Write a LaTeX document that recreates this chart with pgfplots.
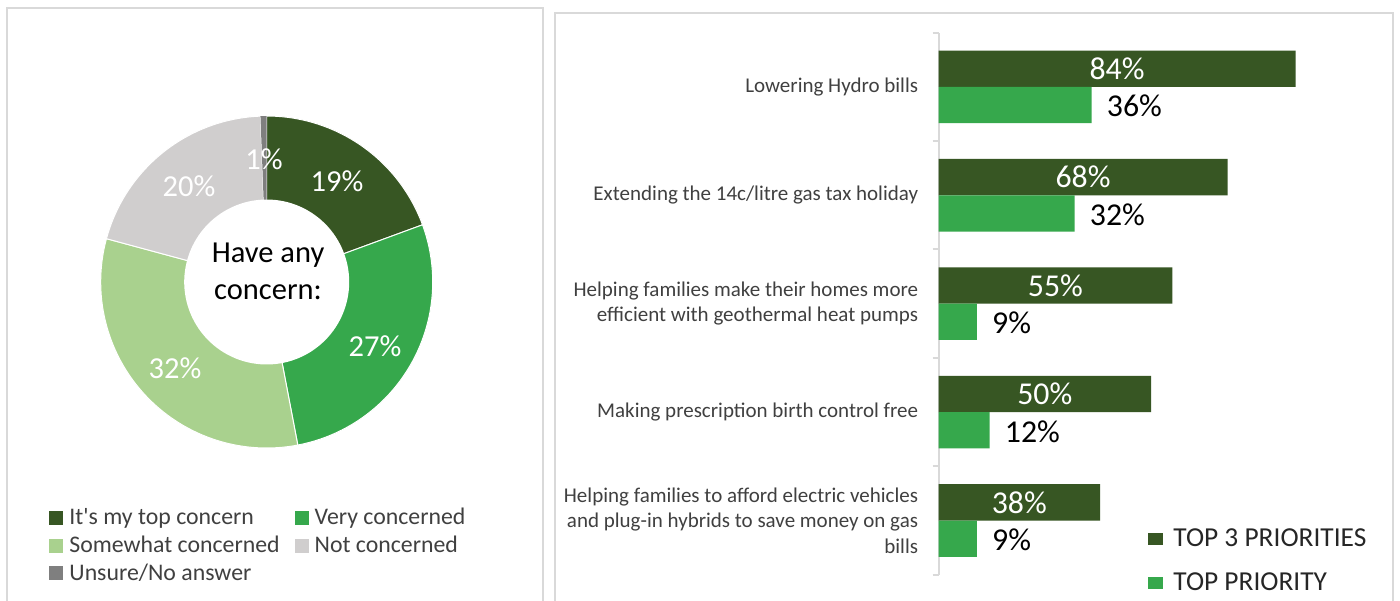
\documentclass[border=0pt]{standalone}
\usepackage{fontspec}
\setmainfont{Carlito}[Ligatures=TeXOff]
\usepackage{pgfplots}
\usepackage{pgfplotstable}
\pgfplotsset{compat=1.18}
\definecolor{cDark}{HTML}{375623}
\definecolor{cGreen}{HTML}{36A84C}
\definecolor{cLight}{HTML}{A9D18E}
\definecolor{cGray}{HTML}{D0CECE}
\definecolor{cUnsure}{HTML}{7F7F7F}
\definecolor{cBorder}{HTML}{D9D9D9}
\definecolor{cText}{HTML}{404040}

\pgfplotsset{
  sqlegend/.style={legend image code/.code={\fill[##1,draw=none] (0pt,-3pt) rectangle (7.5pt,3pt);}},
  sqlegendL/.style={legend image code/.code={\fill[##1,draw=none] (0pt,-3.5pt) rectangle (7pt,3.5pt);}},
}

% donut shares
\def\vA{19.4}\def\vB{27.6}\def\vC{32.2}\def\vD{20.2}\def\vE{0.6}
\pgfmathsetmacro\aA{90-3.6*\vA}
\pgfmathsetmacro\aB{\aA-3.6*\vB}
\pgfmathsetmacro\aC{\aB-3.6*\vC}
\pgfmathsetmacro\aD{\aC-3.6*\vD}
\pgfmathsetmacro\aE{\aD-3.6*\vE}

\pgfplotstableread{
idx top3 top1
4 84 36
3 68 32
2 55 9
1 50 12
0 38 9
}\bardata

\begin{document}
\begin{tikzpicture}
\useasboundingbox[fill=white] (0pt,0pt) rectangle (700pt,300pt);
\draw[cBorder, line width=1pt] (3.5pt,-5pt) -- (3.5pt,296pt) -- (271.5pt,296pt) -- (271.5pt,-5pt);
\draw[cBorder, line width=1pt] (277.5pt,-5pt) -- (277.5pt,293.65pt) -- (696.5pt,293.65pt) -- (696.5pt,-5pt);

% ---------------- donut ----------------
\begin{axis}[
  at={(133.35pt,159pt)}, anchor=origin,
  x=83pt, y=83pt,
  xmin=-1, xmax=1, ymin=-1, ymax=1,
  hide axis, clip=false,
  legend columns=2,
  legend cell align=left,
  legend style={at={(axis cs:-1.311,-1.336)}, anchor=north west, draw=none, fill=none,
    inner sep=0pt, font=\fontsize{11.9}{13}\selectfont,
    nodes={text=cText, inner xsep=0pt, inner ysep=1.3pt, text height=9.1pt, text depth=2.1pt},
    /tikz/every odd column/.append style={column sep=3pt},
    /tikz/every even column/.append style={column sep=7.5pt}},
  sqlegendL,
]
\addplot[fill=cDark, draw=white, line width=0.5pt, domain=\aA:90, samples=40, variable=\t] ({cos(\t)},{sin(\t)}) -- (axis cs:0,0) -- cycle;
\addlegendentry{It's my top concern}
\addplot[fill=cGreen, draw=white, line width=0.5pt, domain=\aB:\aA, samples=50, variable=\t] ({cos(\t)},{sin(\t)}) -- (axis cs:0,0) -- cycle;
\addlegendentry{Very concerned}
\addplot[fill=cLight, draw=white, line width=0.5pt, domain=\aC:\aB, samples=60, variable=\t] ({cos(\t)},{sin(\t)}) -- (axis cs:0,0) -- cycle;
\addlegendentry{Somewhat concerned}
\addplot[fill=cGray, draw=white, line width=0.5pt, domain=\aD:\aC, samples=40, variable=\t] ({cos(\t)},{sin(\t)}) -- (axis cs:0,0) -- cycle;
\addlegendentry{Not concerned}
\addplot[fill=cUnsure, draw=none, domain=\aE:\aD, samples=5, variable=\t] ({cos(\t)},{sin(\t)}) -- (axis cs:0,0) -- cycle;
\addlegendentry{Unsure/No answer}
\addplot[fill=white, draw=none, domain=0:360, samples=120, variable=\t, forget plot] ({0.497*cos(\t)},{0.497*sin(\t)});

\begin{scope}[every node/.style={white, font=\fontsize{15.25}{18}\selectfont}]
\node at (axis cs:0.424,0.608) {19\%};
\node at (axis cs:0.652,-0.386) {27\%};
\node at (axis cs:-0.552,-0.518) {32\%};
\node at (axis cs:-0.468,0.578) {20\%};
\node at (axis cs:-0.016,0.741) {1\%};
\end{scope}
\begin{scope}[every node/.style={black, anchor=base, inner sep=0pt, font=\fontsize{15.25}{18}\selectfont}]
\node at (axis cs:0.008,0.1205) {Have any};
\node at (axis cs:0.008,-0.108) {concern:};
\clip (axis cs:-0.5,-0.274) rectangle (axis cs:0.5,0.3);
\node at (axis cs:0.008,-0.405) {78\%};
\end{scope}
\end{axis}

% ---------------- bars ----------------
\begin{axis}[
  at={(469.25pt,39.75pt)}, anchor=origin,
  x=2.125pt, y=54.2pt,
  xmin=0, xmax=100, ymin=-0.5, ymax=4.5,
  clip=false,
  bar width=18.15pt,
  /pgf/number format/assume math mode=true,
  axis x line=none, axis y line=left,
  axis line style={cBorder, line width=1pt, -},
  ytick={0,...,4},
  yticklabels={{Helping families to afford electric vehicles\\and plug-in hybrids to save money on gas\\bills},
    {Making prescription birth control free},
    {Helping families make their homes more\\efficient with geothermal heat pumps},
    {Extending the 14c/litre gas tax holiday},
    {Lowering Hydro bills}},
  major tick length=0pt,
  minor ytick={-0.5,0.5,...,4.5},
  minor tick length=3pt,
  tick align=outside,
  minor tick style={cBorder, line width=1pt},
  yticklabel style={align=right, font=\fontsize{10.5}{12.8}\selectfont, text=cText, inner xsep=0pt, xshift=-10pt},
  legend cell align=left,
  legend style={at={(axis cs:49.3,0.032)}, anchor=north west, draw=none, fill=none,
    inner sep=0pt, font=\fontsize{13.7}{15}\selectfont,
    nodes={text=black!85, inner xsep=0pt, inner ysep=3.9pt, text height=10.5pt, text depth=3.7pt},
    /tikz/every odd column/.append style={column sep=5pt}},
]
\addplot[xbar, fill=cDark, draw=none, bar shift=9.075pt, sqlegend]
  table[x=top3, y=idx]{\bardata};
\addlegendentry{TOP 3 PRIORITIES}
\addplot[xbar, fill=cGreen, draw=none, bar shift=-9.075pt, sqlegend,
  point meta=x,
  nodes near coords={\pgfmathprintnumber{\pgfplotspointmeta}\%},
  nodes near coords style={black, anchor=west, inner xsep=0pt, xshift=7.5pt, yshift=-9.6pt, font=\fontsize{15.9}{18}\selectfont}]
  table[x=top1, y=idx]{\bardata};
\addlegendentry{TOP PRIORITY}
\addplot[draw=none, mark=none, forget plot,
  point meta=\thisrow{top3},
  nodes near coords={\pgfmathprintnumber{\pgfplotspointmeta}\%},
  nodes near coords style={white, anchor=center, yshift=9.075pt, font=\fontsize{15.9}{18}\selectfont}]
  table[x expr=\thisrow{top3}/2, y=idx]{\bardata};
\end{axis}
\end{tikzpicture}
\end{document}
